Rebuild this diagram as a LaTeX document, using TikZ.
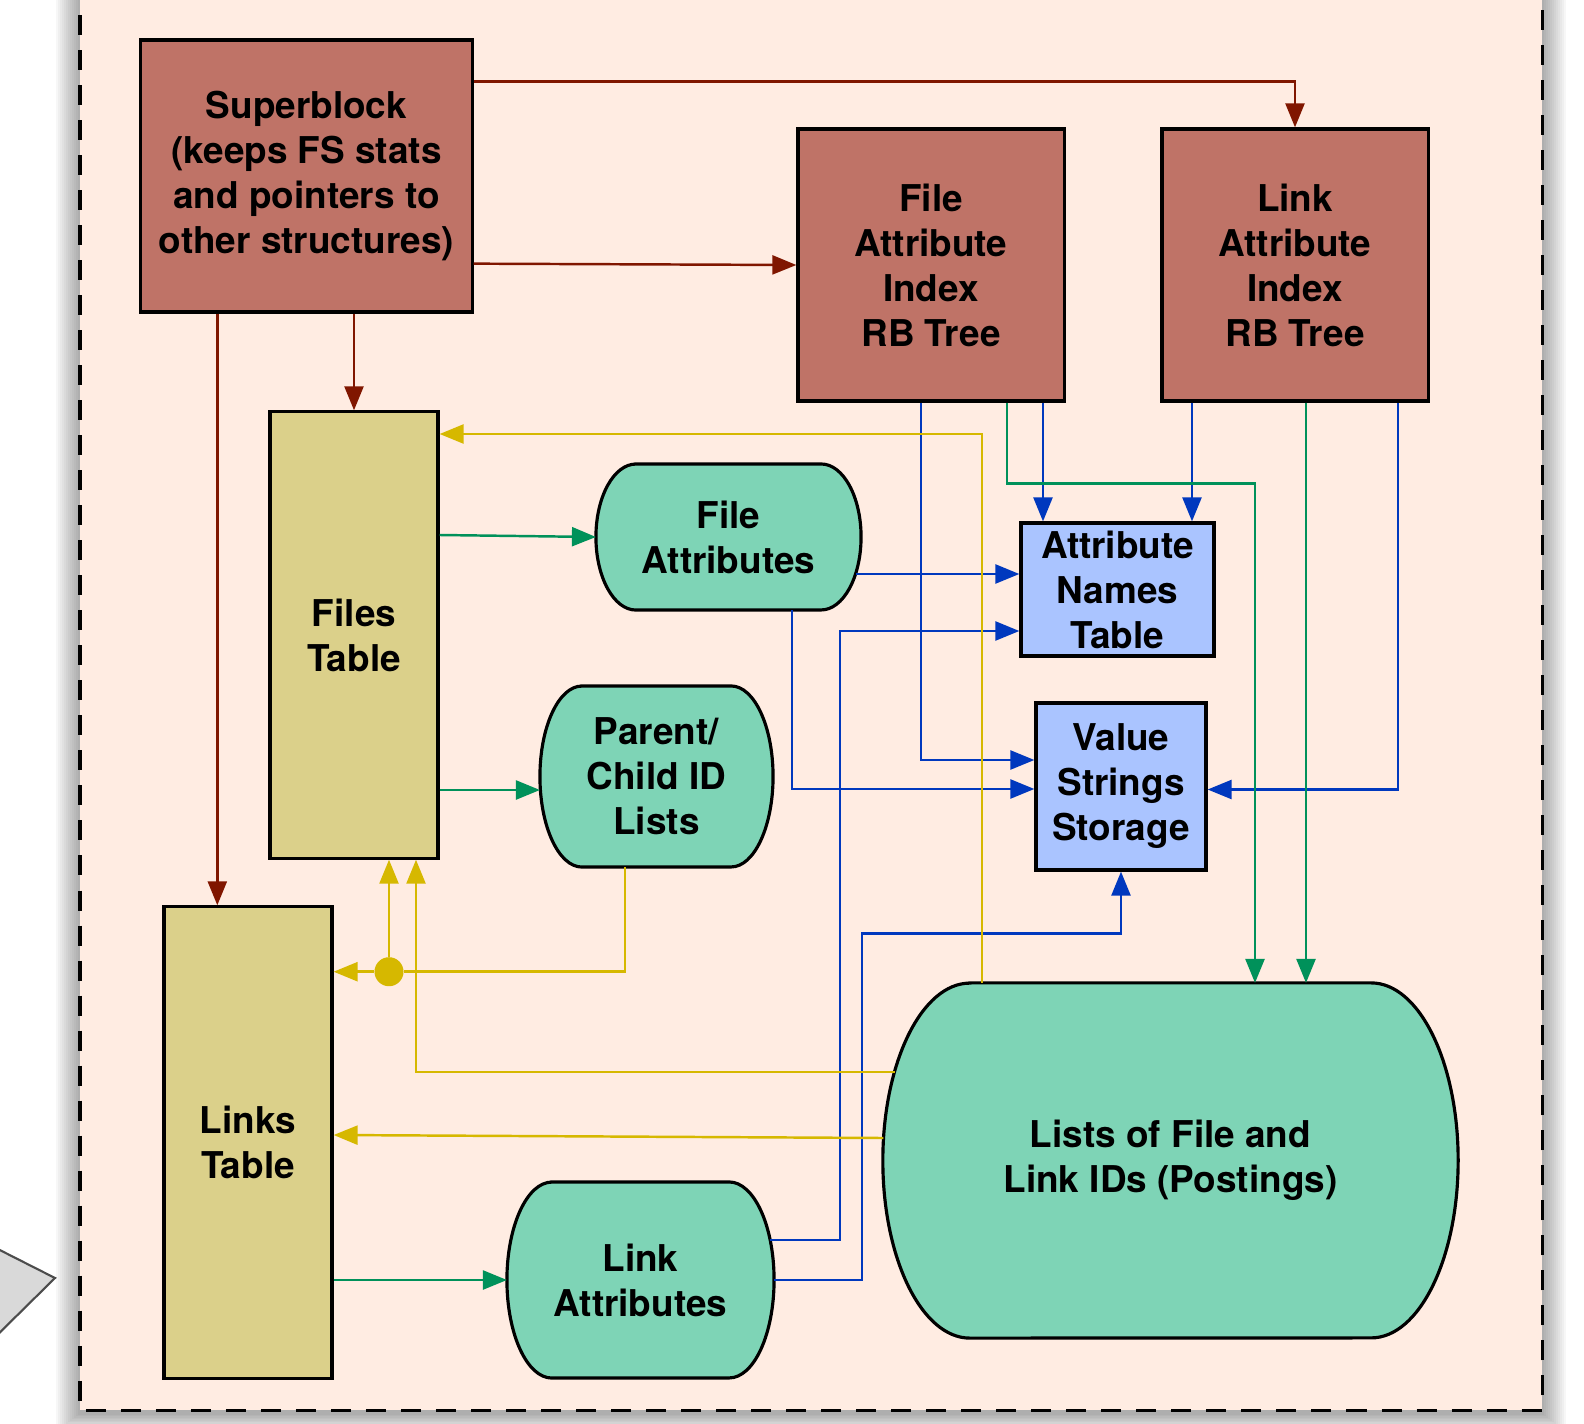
\documentclass[tikz,border=0pt]{standalone}
\usepackage{fontspec}
\setmainfont{TeX Gyre Heros}
\definecolor{SuperblockFill}{HTML}{BF7367}
\definecolor{TableFill}{HTML}{DBD08A}
\definecolor{ListFill}{HTML}{7ED4B6}
\definecolor{StoreFill}{HTML}{AAC4FF}
\definecolor{FrameFill}{HTML}{FFECE2}
\definecolor{RedLine}{HTML}{801600}
\definecolor{BlueLine}{HTML}{0038BE}
\definecolor{GreenLine}{HTML}{00915A}
\definecolor{YellowLine}{HTML}{D6B800}
\usetikzlibrary{calc, arrows.meta}
\pgfdeclarelayer{frame}
\pgfdeclarelayer{blobs}
\pgfsetlayers{frame,blobs,main}
\tikzset{
    box/.style={
        draw, line width=0.9pt, align=center, inner sep=0pt,
        font=\fontsize{10.5}{12.8}\selectfont\bfseries
    },
    super box/.style={box, fill=SuperblockFill},
    table box/.style={box, fill=TableFill},
    store box/.style={box, fill=StoreFill},
    blob/.style={box, draw=none, outer sep=0pt},
    blob line/.style={draw, fill=ListFill, line width=0.9pt},
    link/.style={line width=0.7pt, -{Triangle[length=0.24cm, width=0.19cm]}},
    red link/.style={link, draw=RedLine},
    blue link/.style={link, draw=BlueLine},
    green link/.style={link, draw=GreenLine},
    yellow link/.style={link, draw=YellowLine},
    yellow line/.style={line width=0.7pt, draw=YellowLine},
    joint/.style={circle, fill=YellowLine, inner sep=0pt, minimum size=0.29cm},
}

\begin{document}
\begin{tikzpicture}[x=0.01cm, y=0.01cm]
\useasboundingbox (0,0) rectangle (1584,-1424);
\clip (0,0) rectangle (1584,-1424);

% Nodos
\node[super box, minimum width=3.31cm, minimum height=2.72cm] (sblock) at (306.5,-176)
    {Superblock\\(keeps FS stats\\and pointers to\\other structures)};
\node[super box, minimum width=2.66cm, minimum height=2.72cm] (fidx) at (931,-265)
    {File\\Attribute\\Index\\RB Tree};
\node[super box, minimum width=2.66cm, minimum height=2.72cm] (lidx) at (1295,-265)
    {Link\\Attribute\\Index\\RB Tree};
\node[table box, minimum width=1.68cm, minimum height=4.46cm] (ftab) at (354,-635)
    {Files\\Table};
\node[table box, minimum width=1.68cm, minimum height=4.71cm] (ltab) at (248,-1142.5)
    {Links\\Table};
\node[blob, minimum width=2.65cm, minimum height=1.46cm] (fattr) at (728.5,-537)
    {File\\Attributes};
\node[blob, minimum width=2.33cm, minimum height=1.81cm] (pcl) at (656.5,-776.5)
    {Parent/\\Child ID\\Lists};
\node[blob, minimum width=2.67cm, minimum height=1.96cm] (lattr) at (640.5,-1280)
    {Link\\Attributes};
\node[blob, minimum width=5.75cm, minimum height=3.55cm] (lists) at (1170.5,-1160.5)
    {Lists of File and\\Link IDs (Postings)};
\node[store box, minimum width=1.93cm, minimum height=1.33cm] (anames) at (1117.5,-589.5)
    {Attribute\\Names\\Table};
\node[store box, minimum width=1.70cm, minimum height=1.67cm] (vstr) at (1121,-786.5)
    {Value\\Strings\\Storage};
\node[joint] (jn) at ($(ftab.south)+(35,-112)$) {};

% Contornos de las listas, detras del texto
\begin{pgfonlayer}{blobs}
\foreach \n/\r/\h in {fattr/40/73, pcl/42/90.5, lattr/45/98, lists/87/177.5}
    \draw[blob line] ($(\n.north west)+(\r,0)$) -- ($(\n.north east)+(-\r,0)$)
        arc[start angle=90, end angle=-90, x radius=\r, y radius=\h]
        -- ($(\n.south west)+(\r,0)$)
        arc[start angle=270, end angle=90, x radius=\r, y radius=\h] -- cycle;
\end{pgfonlayer}

% Marco con sombra
\begin{pgfonlayer}{frame}
\foreach \i in {1,...,12}
    \fill[black, opacity=0.03] (80-2*\i,20) rectangle (1542+2*\i,-1413-1.5*\i);
\fill[FrameFill] (80,20) rectangle (1542,-1410);
\draw[line width=0.03cm, dash pattern=on 0.2cm off 0.15cm]
    (80,20) -- (80,-1410) -- (1542,-1410) -- (1542,20);
\draw[fill=black!15, draw=black!70, line width=0.6pt]
    (-20,-1240) -- (55,-1278) -- (-20,-1352);
\end{pgfonlayer}

% Superblock
\draw[red link] ($(sblock.north east)+(0,-43)$) -| (lidx.north);
\draw[red link] ($(sblock.south east)+(0,50)$) -- (fidx.west);
\draw[red link] (sblock.south -| ftab.north) -- (ftab.north);
\draw[red link] ($(sblock.south west)+(78,0)$) coordinate (s1) -- (s1 |- ltab.north);

% Enlaces azules
\draw[blue link] ($(fidx.south)+(-10,0)$) |- ($(vstr.west)+(0,26.5)$);
\draw[blue link] ($(fidx.south)+(112,0)$) coordinate (b1) -- (b1 |- anames.north);
\draw[blue link] ($(lidx.south)+(-103,0)$) coordinate (b2) -- (b2 |- anames.north);
\draw[blue link] ($(lidx.south)+(103,0)$) |- ($(vstr.east)+(0,-3)$);
\draw[blue link] ($(fattr.east)+(-5,-37)$) coordinate (b3) -- (b3 -| anames.west);
\draw[blue link] ($(fattr.south)+(63.5,0)$) |- ($(vstr.west)+(0,-2.5)$);
\draw[blue link] ($(lattr.east)+(-4,40)$) -- ++(70,0) |- ($(anames.west)+(0,-41.5)$);
\draw[blue link] (lattr.east) -- ++(88,0) |- ($(vstr.south)+(0,-62)$) -- (vstr.south);

% Enlaces verdes
\draw[green link] ($(fidx.south)+(76,0)$) -- ++(0,-81) -| ($(lists.north)+(84.5,0)$);
\draw[green link] ($(lidx.south)+(11,0)$) coordinate (g1) -- (g1 |- lists.north);
\draw[green link] ($(ftab.east)+(0,100)$) -- (fattr.west);
\draw[green link] ($(ftab.east)+(0,-155)$) coordinate (g2) -- (g2 -| pcl.west);
\draw[green link] (ltab.east |- lattr.west) -- (lattr.west);

% Enlaces amarillos
\draw[yellow line] ($(pcl.south)+(-31.5,0)$) |- (jn);
\draw[yellow link] (jn) -- (jn -| ltab.east);
\draw[yellow link] (jn) -- (jn |- ftab.south);
\draw[yellow link] ($(lists.west)+(12,88.5)$) -| ($(ftab.south)+(62,0)$);
\draw[yellow link] ($(lists.west)+(0.5,22.5)$) -- ($(ltab.east)+(0,7.5)$);
\draw[yellow link] ($(lists.north)+(-188.5,0)$) |- ($(ftab.east)+(0,201)$);
\end{tikzpicture}
\end{document}
